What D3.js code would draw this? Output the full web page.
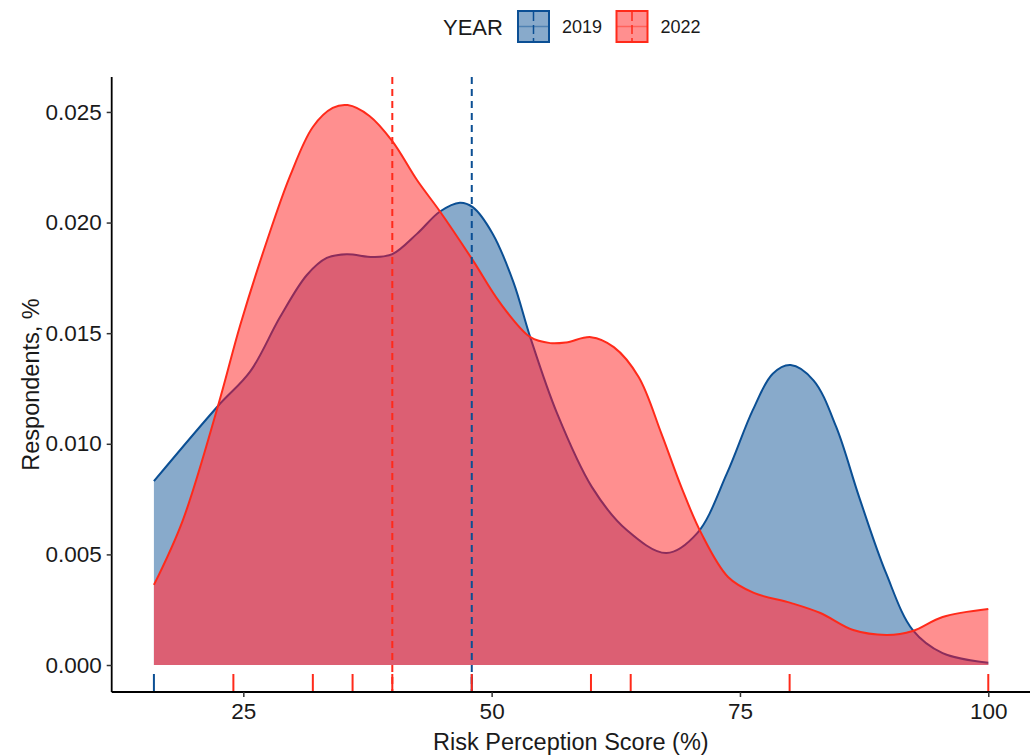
<!DOCTYPE html>
<html>
<head>
<meta charset="utf-8">
<script src="https://cdn.jsdelivr.net/npm/d3@7"></script>
<style>
  body { margin: 0; background: #fff; }
  text { font-family: "Liberation Sans", Arial, sans-serif; fill: #1a1a1a; }
</style>
</head>
<body>
<svg id="chart"></svg>
<script>
// Data
const years = ['2019', '2022'];

// density curve samples (score, density)
const score2019 = [16, 22.45, 25.7, 28.7, 31.4, 33.4, 35.4, 38.1, 40.0, 42.5, 44.8, 46.8, 48.1, 50.1, 52.2, 53.9, 56.6, 60.1, 63.6, 67.6, 70.7, 73.7, 76.3, 78.3, 80.1, 82.4, 84.7, 87.0, 89.7, 92.4, 95.4, 100];
const density2019 = [0.00831, 0.01171, 0.01327, 0.01573, 0.01763, 0.01840, 0.01857, 0.01844, 0.01857, 0.0195, 0.0205, 0.0209, 0.0207, 0.0195, 0.0173, 0.0148, 0.01136, 0.00804, 0.0061, 0.00506, 0.00596, 0.00867, 0.01153, 0.01317, 0.01356, 0.01287, 0.01075, 0.00759, 0.00416, 0.00158, 0.00054, 0.0001];

const score2022 = [16, 18.9, 22.45, 24.7, 27.4, 29.7, 32.0, 34.0, 35.5, 37.7, 40.0, 42.5, 44.8, 48.1, 50.8, 53.9, 55.9, 57.5, 60.0, 62.3, 64.8, 67.1, 69.1, 71.1, 73.8, 76.4, 80.1, 83.1, 86.4, 89.8, 92.4, 95.4, 100];
const density2022 = [0.00362, 0.00653, 0.01171, 0.01538, 0.0192, 0.0221, 0.02432, 0.02518, 0.02531, 0.02482, 0.02368, 0.02191, 0.0205, 0.0183, 0.0164, 0.01482, 0.01455, 0.01458, 0.01482, 0.01437, 0.01302, 0.01045, 0.00804, 0.00596, 0.00398, 0.00326, 0.00281, 0.00235, 0.00158, 0.00136, 0.00154, 0.00217, 0.00253];

// rug marks and medians
const rug2019 = [16, 48];
const rug2022 = [24, 32, 36, 40, 48, 60, 64, 80, 100];
const medians = [48, 40];

const xTicks = [25, 50, 75, 100];
const yTicks = [0, 0.005, 0.010, 0.015, 0.020, 0.025];

// Configuration
const config = {
    width: 1036,
    height: 756,
    panel: { left: 111.7, right: 1030, top: 77, bottom: 692 },
    lineColor: { '2019': '#0b4f94', '2022': '#ff2a1a' },
    fillColor: { '2019': '#115697', '2022': '#ff4444' },
    fillOpacity: { '2019': 0.5, '2022': 0.6 },
    overlapFill: '#dc5f73',      // where both densities overlap
    hiddenLine: '#8c2d5c'        // 2019 outline seen through the 2022 fill
};

const series = [
    { year: '2019', points: score2019.map((s, i) => ({ s, d: density2019[i] })), rug: rug2019, median: medians[0] },
    { year: '2022', points: score2022.map((s, i) => ({ s, d: density2022[i] })), rug: rug2022, median: medians[1] }
];
const s19 = series[0], s22 = series[1];

const svg = d3.select('#chart')
    .attr('width', config.width)
    .attr('height', config.height);

const p = config.panel;
const x = d3.scaleLinear().domain([11.75, 104.2]).range([p.left, p.right]);
const y = d3.scaleLinear().domain([-0.00122, 0.02658]).range([p.bottom, p.top]);

const curve = d3.curveCatmullRom.alpha(0.5);
const area = d3.area()
    .x(d => x(d.s))
    .y0(y(0))
    .y1(d => y(d.d))
    .curve(curve);
const line = d3.line()
    .x(d => x(d.s))
    .y(d => y(d.d))
    .curve(curve);

// clip / mask shapes
const defs = svg.append('defs');
defs.append('clipPath').attr('id', 'clip2019')
    .append('path').datum(s19.points).attr('d', area);
defs.append('clipPath').attr('id', 'clip2022')
    .append('path').datum(s22.points).attr('d', area);
const mask = defs.append('mask').attr('id', 'outside2022');
mask.append('rect').attr('width', config.width).attr('height', config.height).attr('fill', '#fff');
mask.append('path').datum(s22.points).attr('d', area).attr('fill', '#000');

const densGroup = svg.append('g').attr('class', 'densities');

// fills
series.forEach(sr => {
    densGroup.append('path')
        .datum(sr.points)
        .attr('d', area)
        .attr('fill', config.fillColor[sr.year])
        .attr('fill-opacity', config.fillOpacity[sr.year]);
});
densGroup.append('path')
    .datum(s22.points)
    .attr('d', area)
    .attr('clip-path', 'url(#clip2019)')
    .attr('fill', config.overlapFill);

// 2019 outline: blue outside the 2022 fill, dark purple beneath it
densGroup.append('path')
    .datum(s19.points)
    .attr('d', line)
    .attr('fill', 'none')
    .attr('stroke', config.hiddenLine)
    .attr('stroke-width', 2)
    .attr('clip-path', 'url(#clip2022)');
densGroup.append('path')
    .datum(s19.points)
    .attr('d', line)
    .attr('fill', 'none')
    .attr('stroke', config.lineColor['2019'])
    .attr('stroke-width', 2)
    .attr('mask', 'url(#outside2022)');

// 2022 outline
densGroup.append('path')
    .datum(s22.points)
    .attr('d', line)
    .attr('fill', 'none')
    .attr('stroke', config.lineColor['2022'])
    .attr('stroke-width', 2);

// Median lines
svg.append('g').selectAll('line')
    .data(series)
    .enter()
    .append('line')
    .attr('x1', d => x(d.median))
    .attr('x2', d => x(d.median))
    .attr('y1', p.top)
    .attr('y2', p.bottom)
    .attr('stroke', d => config.lineColor[d.year])
    .attr('stroke-width', 2)
    .attr('stroke-dasharray', '7,5');

// Rug
const rugGroup = svg.append('g').attr('class', 'rug');
series.forEach(sr => {
    rugGroup.selectAll(null)
        .data(sr.rug)
        .enter()
        .append('line')
        .attr('x1', d => x(d))
        .attr('x2', d => x(d))
        .attr('y1', p.bottom - 18)
        .attr('y2', p.bottom)
        .attr('stroke', config.lineColor[sr.year])
        .attr('stroke-width', 2);
});

// Axes
const xAxis = svg.append('g')
    .attr('transform', `translate(0,${p.bottom})`)
    .call(d3.axisBottom(x).tickValues(xTicks).tickSize(5).tickPadding(6).tickSizeOuter(0));
const yAxis = svg.append('g')
    .attr('transform', `translate(${p.left},0)`)
    .call(d3.axisLeft(y).tickValues(yTicks).tickFormat(d3.format('.3f')).tickSize(5).tickPadding(5).tickSizeOuter(0));

[xAxis, yAxis].forEach(ax => {
    ax.select('.domain').attr('stroke', '#000').attr('stroke-width', 1.8);
    ax.selectAll('.tick line').attr('stroke', '#333').attr('stroke-width', 1.5);
    ax.selectAll('.tick text')
        .attr('font-size', 22.5)
        .attr('font-family', '"Liberation Sans", Arial, sans-serif')
        .attr('fill', '#1a1a1a');
});
// domain lines span the whole panel
xAxis.select('.domain').attr('d', `M${p.left},0H${p.right}`);
yAxis.select('.domain').attr('d', `M0,${p.top}V${p.bottom}`);

// Axis titles
svg.append('text')
    .attr('x', (p.left + p.right) / 2)
    .attr('y', 750)
    .attr('text-anchor', 'middle')
    .attr('font-size', 23.5)
    .text('Risk Perception Score (%)');

svg.append('text')
    .attr('transform', `translate(39,${(p.top + p.bottom) / 2}) rotate(-90)`)
    .attr('text-anchor', 'middle')
    .attr('font-size', 23.5)
    .text('Respondents, %');

// Legend
const legend = svg.append('g').attr('class', 'legend');
legend.append('text')
    .attr('x', 443)
    .attr('y', 35)
    .attr('font-size', 22)
    .text('YEAR');

const keyX = { '2019': 517, '2022': 615.5 };
years.forEach(yr => {
    const k = legend.append('g').attr('transform', `translate(${keyX[yr]},10)`);
    k.append('rect')
        .attr('x', 1).attr('y', 1)
        .attr('width', 31).attr('height', 31)
        .attr('fill', config.fillColor[yr])
        .attr('fill-opacity', config.fillOpacity[yr])
        .attr('stroke', config.lineColor[yr])
        .attr('stroke-width', 2);
    k.append('line')
        .attr('x1', 1).attr('x2', 32)
        .attr('y1', 16.5).attr('y2', 16.5)
        .attr('stroke', config.lineColor[yr])
        .attr('stroke-opacity', 0.45)
        .attr('stroke-width', 1.5);
    k.append('line')
        .attr('x1', 16.5).attr('x2', 16.5)
        .attr('y1', 2).attr('y2', 31)
        .attr('stroke', config.lineColor[yr])
        .attr('stroke-width', 1.5)
        .attr('stroke-dasharray', '9,4');
    legend.append('text')
        .attr('x', keyX[yr] + 45)
        .attr('y', 33)
        .attr('font-size', 18)
        .text(yr);
});
</script>
</body>
</html>
